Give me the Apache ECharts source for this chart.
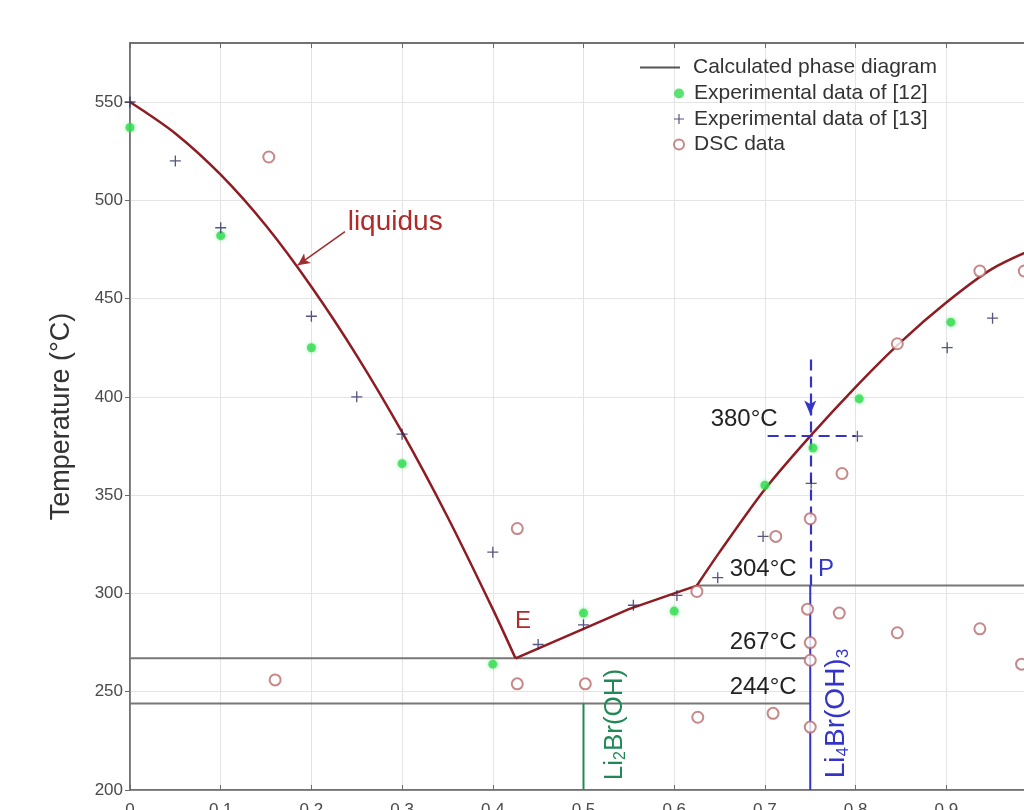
<!DOCTYPE html>
<html>
<head>
<meta charset="utf-8">
<script src="https://cdn.jsdelivr.net/npm/echarts@6/dist/echarts.min.js"></script>
<style>
  html, body { margin: 0; padding: 0; background: #fff; }
  #chart { width: 1024px; height: 810px; }
</style>
</head>
<body>
<div id="chart"></div>
<script>
// calculated phase diagram (liquidus branches, red)
var liquidusLeft = [[0, 550], [0.05, 534], [0.1, 513], [0.15, 487], [0.2, 456], [0.25, 421], [0.3, 382], [0.35, 339], [0.4, 292], [0.425, 267]];
var liquidusMid = [[0.425, 267], [0.5, 282], [0.55, 292], [0.6, 300], [0.625, 304]];
var liquidusRight = [[0.625, 304], [0.65, 321], [0.7, 353], [0.75, 380], [0.8, 405], [0.85, 428], [0.9, 448], [0.95, 465], [1.0, 476]];

// invariant lines (grey)
var line304 = [[0.625, 304], [1.0, 304]];
var line267 = [[0, 267], [0.75, 267]];
var line244 = [[0, 244], [0.75, 244]];

// compounds
var li2Line = [[0.5, 200], [0.5, 244]];
var li4Line = [[0.75, 200], [0.75, 304]];

// experimental data
var exp12 = [[0, 537], [0.1, 482], [0.2, 425], [0.3, 366], [0.4, 264], [0.5, 290], [0.6, 291], [0.7, 355], [0.753, 374], [0.804, 399], [0.905, 438]];
var exp13 = [[0, 550], [0.05, 520], [0.1, 486], [0.2, 441], [0.25, 400], [0.3, 381], [0.4, 321], [0.45, 274], [0.5, 284], [0.555, 294], [0.603, 299], [0.648, 308], [0.698, 329], [0.751, 356], [0.802, 380], [0.901, 425], [0.951, 440]];
var dscData = [[0.153, 522], [0.16, 256], [0.427, 333], [0.427, 254], [0.502, 254], [0.625, 301], [0.626, 237], [0.709, 239], [0.712, 329], [0.75, 338], [0.747, 292], [0.75, 275], [0.75, 266], [0.75, 232], [0.782, 290], [0.785, 361], [0.846, 427], [0.846, 280], [0.937, 464], [0.937, 282], [0.986, 464], [0.983, 264]];

var yTicks = [200, 250, 300, 350, 400, 450, 500, 550];

var font = 'Liberation Sans, Arial, sans-serif';
var red = '#8e1c22';
var grey = '#777777';
var blue = '#3434c8';
var green = '#1f8a55';
var plusPath = 'path://M4.4,0H5.6V4.4H10V5.6H5.6V10H4.4V5.6H0V4.4H4.4Z';

var chart = echarts.init(document.getElementById('chart'));

function grayLine(d) {
    return {
        name: 'Calculated phase diagram', type: 'line', data: d, symbol: 'none',
        lineStyle: {color: grey, width: 2}, z: 3
    };
}

var option = {
    animation: false,
    backgroundColor: '#fff',
    textStyle: {fontFamily: font},
    grid: {left: 130, top: 43, right: -13, bottom: 20, outerBoundsMode: 'none', containLabel: false,
        show: true, borderColor: '#6a6a6a', borderWidth: 1.5},
    legend: [{
        orient: 'vertical', left: 640, top: 57, padding: 0, itemWidth: 40, itemHeight: 2,
        textStyle: {fontSize: 21, color: '#333', fontFamily: font, padding: [0, 0, 0, 8]},
        data: [{name: 'Calculated phase diagram', icon: 'rect', itemStyle: {color: '#555'}}]
    }, {
        orient: 'vertical', left: 673, top: 83, padding: 0, itemWidth: 10, itemHeight: 10, itemGap: 4.5,
        textStyle: {fontSize: 21, color: '#333', fontFamily: font, padding: [0, 0, 0, 5]},
        data: [
            {name: 'Experimental data of [12]', icon: 'circle'},
            {name: 'Experimental data of [13]', icon: plusPath},
            {name: 'DSC data', icon: 'emptyCircle'}
        ]
    }],
    xAxis: [{
        type: 'value', min: 0, max: 1, interval: 0.1,
        axisLine: {lineStyle: {color: '#6a6a6a', width: 1.5}},
        axisTick: {inside: true, length: 5, lineStyle: {color: '#6a6a6a'}},
        axisLabel: {fontSize: 17, color: '#4a4a4a', margin: 12, fontFamily: font},
        splitLine: {lineStyle: {color: '#e4e4e4', width: 1}}
    }, {
        type: 'value', min: 0, max: 1, interval: 0.1, position: 'top',
        axisLine: {lineStyle: {color: '#6a6a6a', width: 1.5}},
        axisTick: {inside: true, length: 5, lineStyle: {color: '#6a6a6a'}},
        axisLabel: {show: false}, splitLine: {show: false}
    }],
    yAxis: {
        type: 'value', min: 200, max: 580, interval: 50,
        name: 'Temperature (\u00b0C)', nameLocation: 'middle', nameGap: 55, nameRotate: 90,
        nameTextStyle: {fontSize: 27, color: '#333', fontFamily: font},
        axisLine: {lineStyle: {color: '#6a6a6a', width: 1.5}},
        axisTick: {inside: false, length: 5, customValues: yTicks, lineStyle: {color: '#6a6a6a'}},
        axisLabel: {
            fontSize: 17, color: '#4a4a4a', margin: 7, fontFamily: font, customValues: yTicks
        },
        splitLine: {lineStyle: {color: '#e4e4e4', width: 1}}
    },
    series: [
        grayLine(line304), grayLine(line267), grayLine(line244),
        {
            name: 'liquidus', type: 'line', data: liquidusLeft, symbol: 'none', smooth: 0.3,
            lineStyle: {color: red, width: 2.5}, z: 4,
            markLine: {
                silent: true, symbol: ['none', 'arrow'], symbolSize: [9, 12],
                label: {show: false},
                lineStyle: {color: '#9c2f2f', width: 1.6, type: 'solid'},
                data: [[{coord: [0.237, 484]}, {coord: [0.185, 467]}]]
            }
        },
        {name: 'liquidus', type: 'line', data: liquidusMid, symbol: 'none', lineStyle: {color: red, width: 2.5}, z: 4},
        {name: 'liquidus', type: 'line', data: liquidusRight, symbol: 'none', smooth: 0.3, lineStyle: {color: red, width: 2.5}, z: 4},
        {name: 'Li2Br(OH)', type: 'line', data: li2Line, symbol: 'none', lineStyle: {color: green, width: 2}, z: 3},
        {
            name: 'Li4Br(OH)3', type: 'line', data: li4Line, symbol: 'none', lineStyle: {color: blue, width: 2}, z: 3,
            markLine: {
                silent: true, symbol: 'none', label: {show: false},
                lineStyle: {color: blue, width: 2.2, type: [11, 6]},
                data: [
                    [{coord: [0.75, 304]}, {coord: [0.75, 394]}],
                    [{coord: [0.703, 380]}, {coord: [0.8, 380]}],
                    [{coord: [0.75, 419], symbol: 'none'}, {coord: [0.75, 391], symbol: 'arrow', symbolSize: [9, 14]}]
                ]
            }
        },
        {
            name: 'Experimental data of [12]', type: 'scatter', data: exp12, symbol: 'circle', symbolSize: 9,
            itemStyle: {color: '#2fdc4e', shadowBlur: 4, shadowColor: 'rgba(60,230,90,0.6)'}, z: 5
        },
        {
            name: 'Experimental data of [13]', type: 'scatter', data: exp13, symbol: plusPath, symbolSize: 11,
            itemStyle: {color: '#2c2c60'}, z: 5
        },
        {
            name: 'DSC data', type: 'scatter', data: dscData, symbol: 'emptyCircle', symbolSize: 11,
            itemStyle: {color: '#b86a6a', borderWidth: 1.5, borderColor: '#b86a6a'}, z: 5
        }
    ]
};

chart.setOption(option);

// text annotations, anchored at data coordinates
function px(p) { return chart.convertToPixel({xAxisIndex: 0, yAxisIndex: 0}, p); }
function txt(p, text, color, size, align, extra) {
    var c = px(p);
    var el = {
        type: 'text', x: c[0], y: c[1], z: 10,
        style: {text: text, fill: color, font: size + 'px ' + font, textAlign: align, textVerticalAlign: 'middle'}
    };
    if (extra) { for (var k in extra) { if (k === 'style') { for (var s in extra.style) el.style[s] = extra.style[s]; } else el[k] = extra[k]; } }
    return el;
}
function subRich(n) {
    return {
        n: {fontSize: n, fontFamily: font},
        s: {fontSize: Math.round(n * 0.62), fontFamily: font, padding: [Math.round(n * 0.46), 0, 0, 0]}
    };
}
chart.setOption({
    graphic: [
        txt([0.24, 489], 'liquidus', '#b02a2a', 28, 'left'),
        txt([0.4245, 286], 'E', '#b02a2a', 24, 'left'),
        txt([0.714, 388.5], '380\u00b0C', '#222', 24, 'right'),
        txt([0.735, 312], '304\u00b0C', '#222', 24, 'right'),
        txt([0.7585, 312], 'P', blue, 24, 'left'),
        txt([0.735, 275], '267\u00b0C', '#222', 24, 'right'),
        txt([0.735, 252], '244\u00b0C', '#222', 24, 'right'),
        txt([0.534, 205], '{n|Li}{s|2}{n|Br(OH)}', green, 26, 'left',
            {rotation: Math.PI / 2, style: {rich: subRich(26), textVerticalAlign: 'middle'}}),
        txt([0.779, 206], '{n|Li}{s|4}{n|Br(OH)}{s|3}', blue, 28, 'left',
            {rotation: Math.PI / 2, style: {rich: subRich(28), textVerticalAlign: 'middle'}})
    ]
});
</script>
</body>
</html>
